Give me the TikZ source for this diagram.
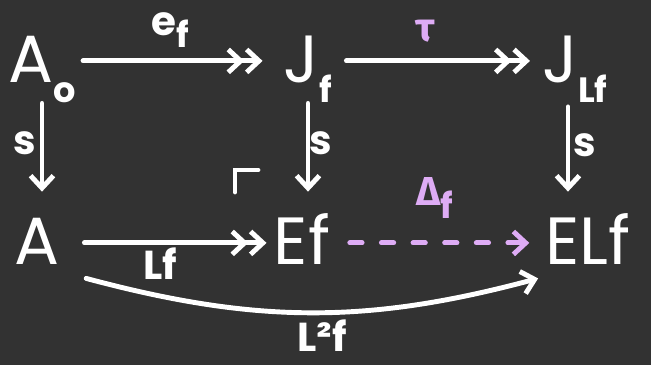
\documentclass[tikz,border=0pt]{standalone}
\usepackage{fontspec}
\setmainfont{Poppins}
\newfontfamily\greekfont{Fira Sans}
\usetikzlibrary{arrows.meta,positioning}
\definecolor{bgcol}{RGB}{50,50,50}
\definecolor{lilac}{RGB}{222,172,245}
\newcommand{\lowsub}[1]{\raisebox{-0.3em}{\fontsize{20}{20}\selectfont\bfseries #1}}
\tikzset{
  % objects of the square
  obj/.style={text=white, font=\fontsize{38}{38}\selectfont, anchor=base,
              text height=28pt, text depth=4pt, inner sep=4pt},
  % arrow labels
  lbl/.style={text=#1, font=\fontsize{23}{23}\selectfont\bfseries, inner sep=1pt},
  lbl/.default={white},
  % plain arrow
  map/.style={draw=#1, line width=2.8pt, line cap=round,
              -{Straight Barb[length=7pt,width=13pt,line width=2.8pt]}},
  map/.default={white},
  % surjection
  epi/.style={map, -{Straight Barb[length=7pt,width=13pt,line width=2.8pt]
                     Straight Barb[length=7pt,width=13pt,line width=2.8pt]}},
  % pullback corner
  corner/.style={draw=white, line width=2.8pt, line cap=round},
}
\begin{document}
\begin{tikzpicture}[x=0.02cm,y=-0.02cm]
  \useasboundingbox[fill=bgcol] (0,0) rectangle (651,365);
  % objects
  \node[obj] (Ao)  at (42,82)   {A\lowsub{o}};
  \node[obj] (Jf)  at (308,82)  {J\lowsub{f}};
  \node[obj] (JLf) at (575,82)  {J\lowsub{Lf}};
  \node[obj] (A)   at (37,264)  {A};
  \node[obj] (Ef)  at (302,264) {Ef};
  \node[obj] (ELf) at (588,264) {ELf};
  % top row
  \draw[epi, shorten <=0pt, shorten >=8pt] (Ao) -- (Jf);
  \draw[epi, shorten <=4pt, shorten >=3pt] (Jf) -- (JLf);
  \node[lbl] (ef) at (170,30) {e\lowsub{f}};
  \node[lbl=lilac] (tau) at (425,31) {\greekfont τ};
  % verticals
  \draw[map, shorten <=4pt, shorten >=9pt] (Ao) -- (Ao |- A.north);
  \draw[map, shorten <=4pt, shorten >=9pt] (Jf) -- (Jf |- Ef.north);
  \draw[map, shorten <=6pt, shorten >=9pt] ([xshift=-4pt]JLf.south) -- ([xshift=-4pt]JLf.south |- ELf.north);
  \node[lbl] (s1) at (25,143)  {s};
  \node[lbl] (s2) at (321,143) {s};
  \node[lbl] (s3) at (585,145) {s};
  % bottom row
  \draw[epi, shorten <=10pt] (A) -- (Ef);
  \node[lbl] (Lf) at (160,264) {Lf};
  \draw[map=lilac, dash pattern=on 7pt off 11pt, shorten <=7pt, shorten >=5pt] (Ef) -- (ELf);
  \node[lbl=lilac] (delta) at (435,198) {{\greekfont Δ}\lowsub{f}};
  \draw[map] ([xshift=11pt]A.south east) to[out=-15, in=195] (ELf.south west);
  \node[lbl] (L2f) at (322,336) {L²f};
  % pullback corner
  \draw[corner] (235,192) -- (235,170) -- (258,170);
\end{tikzpicture}
\end{document}
